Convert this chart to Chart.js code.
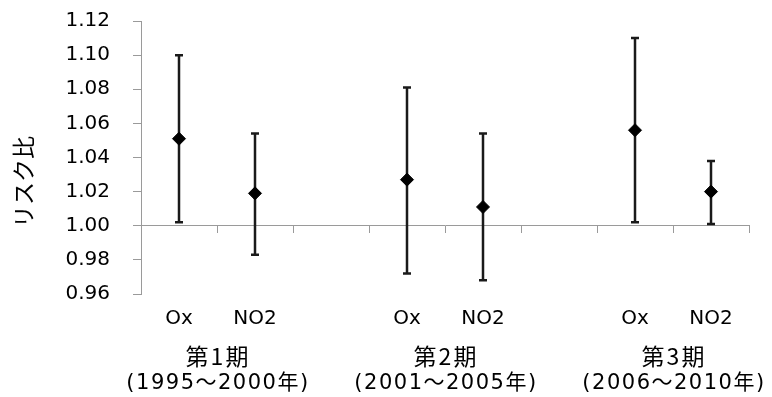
<!DOCTYPE html>
<html><head><meta charset="utf-8">
<script src="https://cdn.jsdelivr.net/npm/chart.js@4/dist/chart.umd.min.js"></script>
<style>html,body{margin:0;padding:0;background:#fff}#wrap{width:772px;height:397px;position:relative}</style>
</head><body><div id="wrap"><canvas id="c" width="772" height="397"></canvas></div>
<script>
// ---- data ----
const categories = ['Ox', 'NO2', '', 'Ox', 'NO2', '', 'Ox', 'NO2'];
const riskRatio  = [1.051, 1.019, null, 1.027, 1.011, null, 1.056, 1.020];
const lowerCI    = [1.002, 0.983, null, 0.972, 0.968, null, 1.002, 1.001];
const upperCI    = [1.100, 1.054, null, 1.081, 1.054, null, 1.110, 1.038];
const periodLabels  = ['第1期', '第2期', '第3期'];
const periodYears   = ['(1995～2000年)', '(2001～2005年)', '(2006～2010年)'];
const periodMembers = [[0, 1], [3, 4], [6, 7]];
const yTicks = [0.96, 0.98, 1.00, 1.02, 1.04, 1.06, 1.08, 1.10, 1.12];
const yTitle = 'リスク比';

const LATIN = "'DejaVu Sans', 'Noto Sans CJK JP', sans-serif";
const CJK = "'Noto Sans CJK JP', sans-serif";

const errorBars = {
  id: 'errorBars',
  beforeDatasetsDraw(chart) {
    const ctx = chart.ctx, xs = chart.scales.x, ys = chart.scales.y;
    ctx.save();
    ctx.strokeStyle = '#1a1a1a';
    ctx.lineWidth = 2.5;
    for (let i = 0; i < riskRatio.length; i++) {
      if (riskRatio[i] == null) continue;
      const x = xs.getPixelForValue(i);
      const yl = ys.getPixelForValue(lowerCI[i]);
      const yu = ys.getPixelForValue(upperCI[i]);
      ctx.beginPath();
      ctx.moveTo(x, yl); ctx.lineTo(x, yu);
      ctx.moveTo(x - 4, yl); ctx.lineTo(x + 4, yl);
      ctx.moveTo(x - 4, yu); ctx.lineTo(x + 4, yu);
      ctx.stroke();
    }
    ctx.restore();
  }
};

const extraLabels = {
  id: 'extraLabels',
  afterDraw(chart) {
    const ctx = chart.ctx, xs = chart.scales.x, area = chart.chartArea;
    ctx.save();
    ctx.fillStyle = '#000';
    ctx.textAlign = 'center';
    ctx.textBaseline = 'middle';
    periodLabels.forEach((lab, k) => {
      const [a, b] = periodMembers[k];
      const cx = (xs.getPixelForValue(a) + xs.getPixelForValue(b)) / 2;
      ctx.font = '23px ' + CJK;
      ctx.letterSpacing = '2px';
      ctx.fillText(lab, cx + 1, area.bottom + 62);
      ctx.font = '21px ' + LATIN;
      ctx.letterSpacing = '1.5px';
      ctx.fillText(periodYears[k], cx + 1, area.bottom + 90);
    });
    ctx.letterSpacing = '0px';
    // y axis title
    ctx.translate(23, area.top + 161);
    ctx.rotate(-Math.PI / 2);
    ctx.font = '23px ' + CJK;
    ctx.fillText(yTitle, 0, 0);
    ctx.restore();
  }
};

new Chart(document.getElementById('c'), {
  type: 'line',
  data: {
    labels: categories,
    datasets: [{
      data: riskRatio,
      showLine: false,
      pointStyle: 'rectRot',
      pointRadius: 6.5,
      pointHoverRadius: 6.5,
      backgroundColor: '#000',
      borderColor: '#000',
      borderWidth: 1
    }]
  },
  options: {
    responsive: false,
    animation: false,
    events: [],
    layout: { padding: { top: 21, right: 23, left: 0, bottom: 0 } },
    plugins: { legend: { display: false }, tooltip: { enabled: false } },
    scales: {
      x: {
        type: 'category',
        offset: true,
        grid: { display: false },
        border: { display: false },
        ticks: { color: '#000', font: { family: LATIN, size: 20 }, padding: 5, autoSkip: false, maxRotation: 0 },
        afterFit(s) { s.height = 103; }
      },
      x2: {
        type: 'category',
        axis: 'x',
        labels: categories,
        offset: true,
        position: { y: 1.0 },
        grid: { offset: true, drawOnChartArea: false, drawTicks: true, tickLength: 7, color: '#9a9a9a', lineWidth: 1 },
        border: { display: true, color: '#9a9a9a', width: 1 },
        ticks: { display: false, autoSkip: false }
      },
      y: {
        min: 0.96,
        max: 1.12,
        afterBuildTicks(s) { s.ticks = yTicks.map(v => ({ value: v })); },
        grid: { drawOnChartArea: false, drawTicks: true, tickLength: 31, color: '#9a9a9a',
                tickBorderDash: [0, 23, 8, 0] },
        border: { display: true, color: '#9a9a9a', width: 1 },
        ticks: { color: '#000', font: { family: LATIN, size: 20 }, padding: 0, callback: v => v.toFixed(2) },
        afterFit(s) { s.width = 141; }
      }
    }
  },
  plugins: [errorBars, extraLabels]
});
</script>
</body></html>
